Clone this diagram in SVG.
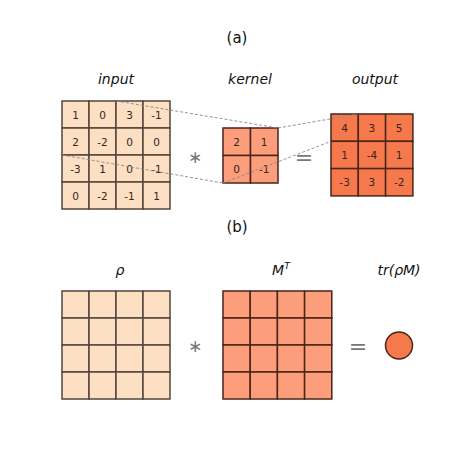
<svg xmlns="http://www.w3.org/2000/svg" width="474" height="474" viewBox="0 0 474 474">
<style>
.lbl{font-family:"DejaVu Sans",sans-serif;font-style:italic;font-size:14px;fill:#111;text-anchor:middle}
.tag{font-family:"DejaVu Sans",sans-serif;font-size:15px;fill:#111;text-anchor:middle}
.num{font-family:"DejaVu Sans",sans-serif;font-size:10.5px;fill:#3a2418;text-anchor:middle;dominant-baseline:central}
.op{font-family:"DejaVu Sans",sans-serif;font-size:22px;fill:#777;text-anchor:middle;dominant-baseline:central}
.ast{font-family:"DejaVu Sans",sans-serif;font-size:17px;fill:#777;text-anchor:middle;dominant-baseline:central}
.c0{fill:#fde0c4;stroke:#54443a;stroke-width:1.5}
.c1{fill:#fc9e7b;stroke:#4a2518;stroke-width:1.5}
.c2{fill:#f6794d;stroke:#4a2518;stroke-width:1.5}
.dash{stroke:#888;stroke-width:0.9;stroke-dasharray:3,2;fill:none}
</style>
<rect width="474" height="474" fill="#fff"/>
<text class="tag" x="237" y="43">(a)</text>
<text class="tag" x="237" y="232">(b)</text>

<g id="input">
<text class="lbl" x="116" y="84">input</text>
<g class="c0">
<rect x="62" y="101" width="27" height="27"/><rect x="89" y="101" width="27" height="27"/><rect x="116" y="101" width="27" height="27"/><rect x="143" y="101" width="27" height="27"/>
<rect x="62" y="128" width="27" height="27"/><rect x="89" y="128" width="27" height="27"/><rect x="116" y="128" width="27" height="27"/><rect x="143" y="128" width="27" height="27"/>
<rect x="62" y="155" width="27" height="27"/><rect x="89" y="155" width="27" height="27"/><rect x="116" y="155" width="27" height="27"/><rect x="143" y="155" width="27" height="27"/>
<rect x="62" y="182" width="27" height="27"/><rect x="89" y="182" width="27" height="27"/><rect x="116" y="182" width="27" height="27"/><rect x="143" y="182" width="27" height="27"/>
</g>
<text class="num" x="75.5" y="114.5">1</text><text class="num" x="102.5" y="114.5">0</text><text class="num" x="129.5" y="114.5">3</text><text class="num" x="156.5" y="114.5">-1</text>
<text class="num" x="75.5" y="141.5">2</text><text class="num" x="102.5" y="141.5">-2</text><text class="num" x="129.5" y="141.5">0</text><text class="num" x="156.5" y="141.5">0</text>
<text class="num" x="75.5" y="168.5">-3</text><text class="num" x="102.5" y="168.5">1</text><text class="num" x="129.5" y="168.5">0</text><text class="num" x="156.5" y="168.5">-1</text>
<text class="num" x="75.5" y="195.5">0</text><text class="num" x="102.5" y="195.5">-2</text><text class="num" x="129.5" y="195.5">-1</text><text class="num" x="156.5" y="195.5">1</text>
</g>

<text class="ast" x="195" y="157">∗</text>

<g id="kernel">
<text class="lbl" x="250" y="84">kernel</text>
<g class="c1">
<rect x="223" y="128" width="27.5" height="27.5"/><rect x="250.5" y="128" width="27.5" height="27.5"/>
<rect x="223" y="155.5" width="27.5" height="27.5"/><rect x="250.5" y="155.5" width="27.5" height="27.5"/>
</g>
<text class="num" x="236.7" y="141.7">2</text><text class="num" x="264.2" y="141.7">1</text>
<text class="num" x="236.7" y="169.2">0</text><text class="num" x="264.2" y="169.2">-1</text>
</g>

<text class="op" x="304" y="157">=</text>

<g id="output">
<text class="lbl" x="375" y="84">output</text>
<g class="c2">
<rect x="331" y="114" width="27.3" height="27.3"/><rect x="358.3" y="114" width="27.3" height="27.3"/><rect x="385.6" y="114" width="27.3" height="27.3"/>
<rect x="331" y="141.3" width="27.3" height="27.3"/><rect x="358.3" y="141.3" width="27.3" height="27.3"/><rect x="385.6" y="141.3" width="27.3" height="27.3"/>
<rect x="331" y="168.6" width="27.3" height="27.3"/><rect x="358.3" y="168.6" width="27.3" height="27.3"/><rect x="385.6" y="168.6" width="27.3" height="27.3"/>
</g>
<text class="num" x="344.6" y="127.6">4</text><text class="num" x="371.9" y="127.6">3</text><text class="num" x="399.2" y="127.6">5</text>
<text class="num" x="344.6" y="154.9">1</text><text class="num" x="371.9" y="154.9">-4</text><text class="num" x="399.2" y="154.9">1</text>
<text class="num" x="344.6" y="182.2">-3</text><text class="num" x="371.9" y="182.2">3</text><text class="num" x="399.2" y="182.2">-2</text>
</g>

<g id="connectors">
<line class="dash" x1="116" y1="101" x2="278" y2="128"/>
<line class="dash" x1="62" y1="155" x2="223" y2="183"/>
<line class="dash" x1="278" y1="128" x2="358.3" y2="114"/>
<line class="dash" x1="223" y1="183" x2="331" y2="141.3"/>
</g>

<g id="rho">
<text class="lbl" x="120" y="275">ρ</text>
<g class="c0">
<rect x="62" y="291" width="27" height="27"/><rect x="89" y="291" width="27" height="27"/><rect x="116" y="291" width="27" height="27"/><rect x="143" y="291" width="27" height="27"/>
<rect x="62" y="318" width="27" height="27"/><rect x="89" y="318" width="27" height="27"/><rect x="116" y="318" width="27" height="27"/><rect x="143" y="318" width="27" height="27"/>
<rect x="62" y="345" width="27" height="27"/><rect x="89" y="345" width="27" height="27"/><rect x="116" y="345" width="27" height="27"/><rect x="143" y="345" width="27" height="27"/>
<rect x="62" y="372" width="27" height="27"/><rect x="89" y="372" width="27" height="27"/><rect x="116" y="372" width="27" height="27"/><rect x="143" y="372" width="27" height="27"/>
</g>
</g>

<text class="ast" x="195" y="346">∗</text>

<g id="MT">
<text class="lbl" x="281" y="275">M<tspan font-size="9.5px" dy="-6">T</tspan></text>
<g class="c1">
<rect x="223" y="291" width="27.2" height="27"/><rect x="250.2" y="291" width="27.2" height="27"/><rect x="277.4" y="291" width="27.2" height="27"/><rect x="304.6" y="291" width="27.2" height="27"/>
<rect x="223" y="318" width="27.2" height="27"/><rect x="250.2" y="318" width="27.2" height="27"/><rect x="277.4" y="318" width="27.2" height="27"/><rect x="304.6" y="318" width="27.2" height="27"/>
<rect x="223" y="345" width="27.2" height="27"/><rect x="250.2" y="345" width="27.2" height="27"/><rect x="277.4" y="345" width="27.2" height="27"/><rect x="304.6" y="345" width="27.2" height="27"/>
<rect x="223" y="372" width="27.2" height="27"/><rect x="250.2" y="372" width="27.2" height="27"/><rect x="277.4" y="372" width="27.2" height="27"/><rect x="304.6" y="372" width="27.2" height="27"/>
</g>
</g>

<text class="op" x="358" y="346">=</text>

<g id="trace">
<text class="lbl" x="399" y="275">tr(ρM)</text>
<circle cx="399" cy="345.5" r="13.5" fill="#f6794d" stroke="#4a2518" stroke-width="1.5"/>
</g>
</svg>
